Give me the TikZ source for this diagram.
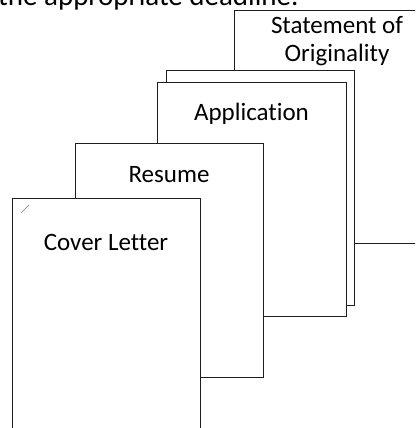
\documentclass[tikz,border=0pt]{standalone}
\usepackage{fontspec}
\setmainfont{Carlito}[Ligatures=NoCommon]
\usepackage{tikz}
\usetikzlibrary{positioning}
\definecolor{pageline}{RGB}{30,30,30}
\definecolor{pagemark}{RGB}{130,130,130}
\tikzset{
  page/.style={draw=pageline,fill=white,line width=1.1pt,inner sep=0pt,
    anchor=north west},
  pagetext/.style={anchor=base,align=center,inner sep=0pt,
    font=\fontsize{25}{28}\selectfont}
}
\newcommand{\docpage}[7]{%
  \node[page,minimum width={(#4-#2)*1pt},minimum height={(#5-#3)*1pt}]
    (#1) at (#2,#3) {};
  \node[pagetext] (#1-text) at ({(#2+#4)/2},#6) {#7};
}

\begin{document}
\begin{tikzpicture}[x=1pt,y=-1pt]
  \useasboundingbox (0,0) rectangle (415,428);
  \clip (0,0) rectangle (415,428);
  \node[anchor=base west,inner sep=0pt,font=\fontsize{29}{34}\selectfont]
    (intro) at (-2,6) {the appropriate deadline.};
  \docpage{statement}{234}{10}{440}{243}{61}{Statement of\\Originality}
  \docpage{appback}{166}{70}{354}{305}{0}{}
  \docpage{application}{157}{82}{346}{316}{120}{Application}
  \docpage{resume}{75}{143}{263}{377}{182}{Resume}
  \docpage{cover}{12}{198}{200}{450}{250}{Cover Letter}
  \draw[pagemark,line width=.6pt] (cover.north west) ++(9,15) -- ++(8,-8);
\end{tikzpicture}
\end{document}
